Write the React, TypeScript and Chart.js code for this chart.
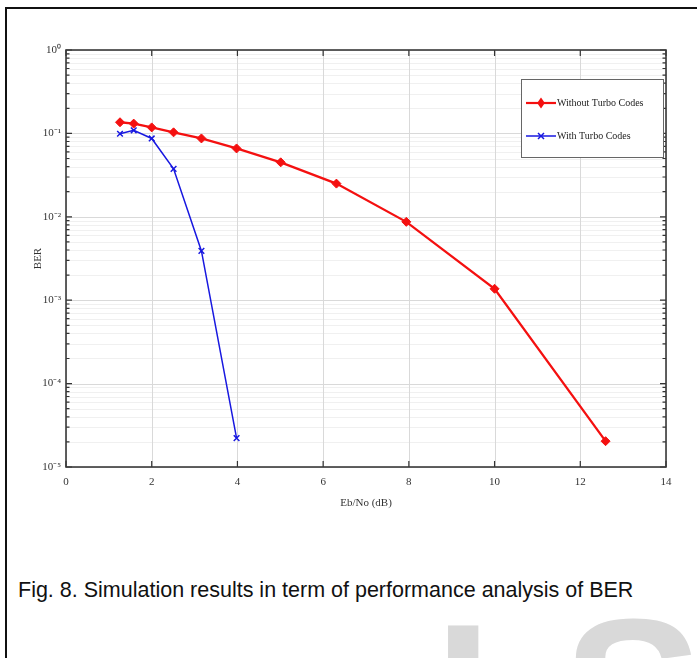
import React, { useEffect, useRef } from 'react';
import { Chart, registerables } from 'chart.js';

Chart.register(...registerables);

// Eb/No values (linear ratio of 1..11 dB) on the x axis
const ebNoWithout = [1.26, 1.58, 2.0, 2.51, 3.16, 3.98, 5.01, 6.31, 7.94, 10.0, 12.59];
const berWithout = [0.136, 0.131, 0.118, 0.103, 0.087, 0.066, 0.045, 0.025, 0.0087, 0.00137, 0.0000204];
const ebNoWith = [1.26, 1.58, 2.0, 2.51, 3.16, 3.98];
const berWith = [0.099, 0.109, 0.087, 0.0376, 0.0039, 0.0000222];
const seriesNames = ['Without Turbo Codes', 'With Turbo Codes'];
const xTickValues = [0, 2, 4, 6, 8, 10, 12, 14];
const yDecadeExponents = [-5, -4, -3, -2, -1, 0];
const xTitle = 'Eb/No (dB)';
const yTitle = 'BER';
const caption = 'Fig. 8. Simulation results in term of performance analysis of BER';

const RED = '#f41010';
const BLUE = '#1818e0';

const SUP: Record<string, string> = { '0': '⁰', '1': '¹', '2': '²', '3': '³', '4': '⁴', '5': '⁵', '-': '⁻' };
const sup = (n: number) => String(n).split('').map((c) => SUP[c] || c).join('');

const framePlugin = {
  id: 'frame',
  beforeDatasetsDraw(chart: any) {
    const { ctx, chartArea: a, scales } = chart;
    const x = scales.x;
    const y = scales.y;
    ctx.save();
    ctx.lineWidth = 1;
    // minor horizontal grid
    ctx.strokeStyle = '#f0f0f0';
    for (const e of yDecadeExponents) {
      if (e >= 0) continue;
      for (let m = 2; m <= 9; m++) {
        const py = Math.round(y.getPixelForValue(m * Math.pow(10, e))) + 0.5;
        ctx.beginPath();
        ctx.moveTo(a.left, py);
        ctx.lineTo(a.right, py);
        ctx.stroke();
      }
    }
    // major grid
    ctx.strokeStyle = '#d9d9d9';
    for (const e of yDecadeExponents) {
      const py = Math.round(y.getPixelForValue(Math.pow(10, e))) + 0.5;
      ctx.beginPath();
      ctx.moveTo(a.left, py);
      ctx.lineTo(a.right, py);
      ctx.stroke();
    }
    for (const v of xTickValues) {
      const px = Math.round(x.getPixelForValue(v)) + 0.5;
      ctx.beginPath();
      ctx.moveTo(px, a.top);
      ctx.lineTo(px, a.bottom);
      ctx.stroke();
    }
    ctx.restore();
  },
  afterDraw(chart: any) {
    const { ctx, chartArea: a, scales } = chart;
    const x = scales.x;
    const y = scales.y;
    ctx.save();
    // ticks
    ctx.strokeStyle = '#333333';
    ctx.lineWidth = 1.2;
    for (const v of xTickValues) {
      const px = x.getPixelForValue(v);
      ctx.beginPath();
      ctx.moveTo(px, a.bottom);
      ctx.lineTo(px, a.bottom - 6);
      ctx.moveTo(px, a.top);
      ctx.lineTo(px, a.top + 6);
      ctx.stroke();
    }
    for (const e of yDecadeExponents) {
      const py = y.getPixelForValue(Math.pow(10, e));
      ctx.beginPath();
      ctx.moveTo(a.left, py);
      ctx.lineTo(a.left + 6, py);
      ctx.moveTo(a.right, py);
      ctx.lineTo(a.right - 6, py);
      ctx.stroke();
      if (e >= 0) continue;
      for (let m = 2; m <= 9; m++) {
        const q = y.getPixelForValue(m * Math.pow(10, e));
        ctx.beginPath();
        ctx.moveTo(a.left, q);
        ctx.lineTo(a.left + 3.5, q);
        ctx.moveTo(a.right, q);
        ctx.lineTo(a.right - 3.5, q);
        ctx.stroke();
      }
    }
    // box
    ctx.strokeStyle = '#3a3a3a';
    ctx.lineWidth = 1.6;
    ctx.strokeRect(a.left, a.top, a.right - a.left, a.bottom - a.top);

    // legend
    const lx = 521, ly = 79, lw = 142, lh = 78;
    ctx.fillStyle = '#ffffff';
    ctx.fillRect(lx, ly, lw, lh);
    ctx.strokeStyle = '#666666';
    ctx.lineWidth = 1;
    ctx.strokeRect(lx + 0.5, ly + 0.5, lw, lh);
    const rows = [
      { name: seriesNames[0], color: RED, y: 103, marker: 'diamond' },
      { name: seriesNames[1], color: BLUE, y: 136, marker: 'x' },
    ];
    ctx.font = '10px "Liberation Serif", serif';
    ctx.textBaseline = 'middle';
    for (const r of rows) {
      ctx.strokeStyle = r.color;
      ctx.lineWidth = r.marker === 'diamond' ? 2.2 : 1.5;
      ctx.beginPath();
      ctx.moveTo(526, r.y);
      ctx.lineTo(556, r.y);
      ctx.stroke();
      const cx = 541;
      if (r.marker === 'diamond') {
        ctx.fillStyle = r.color;
        ctx.beginPath();
        ctx.moveTo(cx, r.y - 5.5);
        ctx.lineTo(cx + 3.8, r.y);
        ctx.lineTo(cx, r.y + 5.5);
        ctx.lineTo(cx - 3.8, r.y);
        ctx.closePath();
        ctx.fill();
      } else {
        ctx.beginPath();
        ctx.moveTo(cx - 3, r.y - 3);
        ctx.lineTo(cx + 3, r.y + 3);
        ctx.moveTo(cx + 3, r.y - 3);
        ctx.lineTo(cx - 3, r.y + 3);
        ctx.stroke();
      }
      ctx.fillStyle = '#222222';
      ctx.fillText(r.name, 557, r.y);
    }
    ctx.restore();
  },
};

export default function App() {
  const ref = useRef<HTMLCanvasElement | null>(null);

  useEffect(() => {
    if (!ref.current) return;
    const chart = new Chart(ref.current, {
      type: 'line',
      data: {
        datasets: [
          {
            label: seriesNames[0],
            data: ebNoWithout.map((v, i) => ({ x: v, y: berWithout[i] })),
            borderColor: RED,
            backgroundColor: RED,
            borderWidth: 2.3,
            pointStyle: 'rectRot',
            pointRadius: 4.5,
            pointBorderWidth: 1,
            tension: 0,
          },
          {
            label: seriesNames[1],
            data: ebNoWith.map((v, i) => ({ x: v, y: berWith[i] })),
            borderColor: BLUE,
            backgroundColor: BLUE,
            borderWidth: 1.5,
            pointStyle: 'crossRot',
            pointRadius: 4,
            pointBorderWidth: 1.5,
            tension: 0,
          },
        ],
      },
      options: {
        responsive: false,
        animation: false,
        layout: { padding: { left: 0, right: 31, top: 50, bottom: 0 } },
        plugins: { legend: { display: false }, tooltip: { enabled: false } },
        scales: {
          x: {
            type: 'linear',
            min: 0,
            max: 14,
            afterBuildTicks: (scale: any) => {
              scale.ticks = xTickValues.map((v) => ({ value: v }));
            },
            afterFit: (scale: any) => {
              scale.height = 53;
            },
            grid: { display: false, drawTicks: false },
            border: { display: false },
            ticks: {
              padding: 9,
              color: '#333333',
              font: { family: '"Liberation Serif", serif', size: 11 },
              maxRotation: 0,
            },
            title: {
              display: true,
              text: xTitle,
              color: '#333333',
              font: { family: '"Liberation Serif", serif', size: 11 },
              padding: { top: 0, bottom: 10 },
            },
          },
          y: {
            type: 'logarithmic',
            min: 1e-5,
            max: 1,
            afterBuildTicks: (scale: any) => {
              scale.ticks = yDecadeExponents.map((e) => ({ value: Math.pow(10, e) }));
            },
            afterFit: (scale: any) => {
              scale.width = 66;
            },
            grid: { display: false, drawTicks: false },
            border: { display: false },
            ticks: {
              padding: 5,
              color: '#333333',
              font: { family: '"Liberation Serif", serif', size: 11 },
              callback: (value: any) => '10' + sup(Math.round(Math.log10(Number(value)))),
            },
            title: {
              display: true,
              text: yTitle,
              color: '#333333',
              font: { family: '"Liberation Serif", serif', size: 11 },
              padding: { top: 32, bottom: 0 },
            },
          },
        },
      },
      plugins: [framePlugin],
    });
    return () => chart.destroy();
  }, []);

  return (
    <div style={{ position: 'fixed', left: 0, top: 0, width: 697, height: 658, overflow: 'hidden', background: '#ffffff' }}>
      <div
        style={{
          position: 'absolute',
          left: 5,
          top: 7,
          width: 900,
          height: 900,
          borderLeft: '2px solid #111',
          borderTop: '2px solid #111',
        }}
      />
      <div
        style={{
          position: 'absolute',
          left: 434,
          top: 593,
          fontFamily: '"Liberation Sans", Arial, sans-serif',
          fontWeight: 'bold',
          fontSize: 210,
          lineHeight: 1,
          color: '#d9d9d9',
        }}
      >
        I
      </div>
      <div
        style={{
          position: 'absolute',
          left: 563,
          top: 588,
          fontFamily: '"Liberation Sans", Arial, sans-serif',
          fontWeight: 'bold',
          fontSize: 210,
          lineHeight: 1,
          color: '#d9d9d9',
        }}
      >
        S
      </div>
      <canvas ref={ref} width={697} height={520} style={{ position: 'absolute', left: 0, top: 0 }} />
      <div
        style={{
          position: 'absolute',
          left: 18,
          top: 580,
          fontFamily: '"Liberation Sans", Arial, sans-serif',
          fontSize: 21.5,
          lineHeight: 1,
          color: '#111111',
          whiteSpace: 'nowrap',
        }}
      >
        {caption}
      </div>
    </div>
  );
}
